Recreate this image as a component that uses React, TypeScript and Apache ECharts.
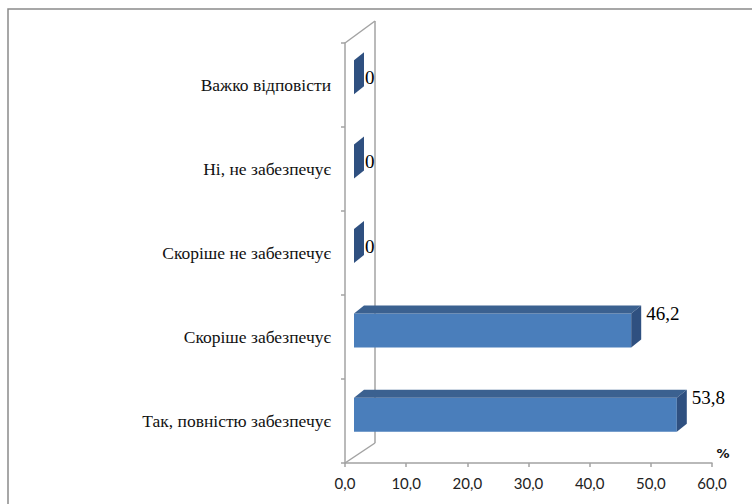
import React, { useEffect, useRef } from "react";
import * as echarts from "echarts";

const categories = [
  "Важко відповісти",
  "Ні, не забезпечує",
  "Скоріше не забезпечує",
  "Скоріше забезпечує",
  "Так, повністю забезпечує",
];
const values = [0, 0, 0, 46.2, 53.8];
const xTicks = { min: 0, max: 60, interval: 10 };
const unitLabel = "%";

const SERIF = "Liberation Serif";

export default function App() {
  const ref = useRef<HTMLDivElement>(null);
  useEffect(() => {
    if (!ref.current) return;
    const chart = echarts.init(ref.current, undefined, { renderer: "svg" });
    const axisColor = "#a3a3a3";
    const dx = 10;
    const dy = -8;
    const barH = 34;
    chart.setOption({
      animation: false,
      grid: [
        { left: 345, top: 43, width: 367, height: 420, containLabel: false },
        { left: 354, top: 35, width: 360, height: 422, containLabel: false },
      ],
      xAxis: [
        {
          type: "value",
          gridIndex: 0,
          min: xTicks.min,
          max: xTicks.max,
          interval: xTicks.interval,
          splitLine: { show: false },
          axisLine: { show: true, lineStyle: { color: axisColor, width: 1.5 } },
          axisTick: { show: true, length: 4, lineStyle: { color: axisColor, width: 1.5 } },
          axisLabel: {
            margin: 12,
            fontFamily: "Lato",
            fontSize: 15,
            color: "#222",
            formatter: (v: number) => v.toFixed(1).replace(".", ","),
          },
        },
        { type: "value", gridIndex: 1, min: xTicks.min, max: xTicks.max, show: false },
      ],
      yAxis: [
        {
          type: "category",
          gridIndex: 0,
          inverse: true,
          data: categories,
          axisLine: { show: true, lineStyle: { color: axisColor, width: 1.5 } },
          axisTick: { show: true, length: 4, lineStyle: { color: axisColor, width: 1.5 } },
          axisLabel: {
            margin: 14,
            fontFamily: SERIF,
            fontSize: 17.5,
            color: "#111",
          },
        },
        { type: "category", gridIndex: 1, inverse: true, data: categories, show: false },
      ],
      series: [
        {
          type: "custom",
          xAxisIndex: 1,
          yAxisIndex: 1,
          data: values.map((v, i) => [v, i]),
          renderItem: (params: any, api: any) => {
            const v = api.value(0);
            const c = api.value(1);
            const s = api.coord([0, c]);
            const e = api.coord([v, c]);
            const x0 = s[0];
            const x1 = e[0];
            const yT = s[1] - barH / 2;
            const yB = s[1] + barH / 2;
            const zero = v === 0;
            return {
              type: "group",
              children: [
                {
                  type: "rect",
                  shape: { x: x0, y: yT, width: x1 - x0, height: barH },
                  style: { fill: "#4a7ebb" },
                },
                {
                  type: "polygon",
                  shape: {
                    points: [
                      [x0, yT],
                      [x0 + dx, yT + dy],
                      [x1 + dx, yT + dy],
                      [x1, yT],
                    ],
                  },
                  style: { fill: "#3b6190" },
                },
                {
                  type: "polygon",
                  shape: {
                    points: [
                      [x1, yT],
                      [x1 + dx, yT + dy],
                      [x1 + dx, yB + dy],
                      [x1, yB],
                    ],
                  },
                  style: { fill: "#2f5080" },
                },
                {
                  type: "text",
                  style: {
                    x: x1 + dx + (zero ? 1 : 5),
                    y: s[1] + (zero ? 0 : -17),
                    text: String(v).replace(".", ","),
                    fontFamily: SERIF,
                    fontSize: 19,
                    fill: "#000",
                    align: "left",
                    verticalAlign: "middle",
                  },
                },
              ],
            };
          },
        },
      ],
      graphic: [
        {
          type: "rect",
          shape: { x: 8, y: 9, width: 800, height: 600 },
          style: { fill: "none", stroke: "#8a8a8a", lineWidth: 1.5 },
          silent: true,
        },
        {
          type: "line",
          shape: { x1: 375, y1: 21, x2: 375, y2: 443 },
          style: { stroke: axisColor, lineWidth: 1.5 },
        },
        {
          type: "line",
          shape: { x1: 345, y1: 43, x2: 375, y2: 21 },
          style: { stroke: axisColor, lineWidth: 1.5 },
        },
        {
          type: "line",
          shape: { x1: 345, y1: 463, x2: 375, y2: 443 },
          style: { stroke: axisColor, lineWidth: 1.5 },
        },
        {
          type: "text",
          x: 723,
          y: 453,
          style: {
            text: unitLabel,
            fontFamily: "DejaVu Sans",
            fontWeight: "bold",
            fontSize: 13,
            fill: "#111",
            align: "center",
            verticalAlign: "middle",
          },
        },
      ],
    });
    return () => chart.dispose();
  }, []);
  return (
    <div
      ref={ref}
      style={{ position: "absolute", left: 0, top: 0, width: 752, height: 504 }}
    />
  );
}
